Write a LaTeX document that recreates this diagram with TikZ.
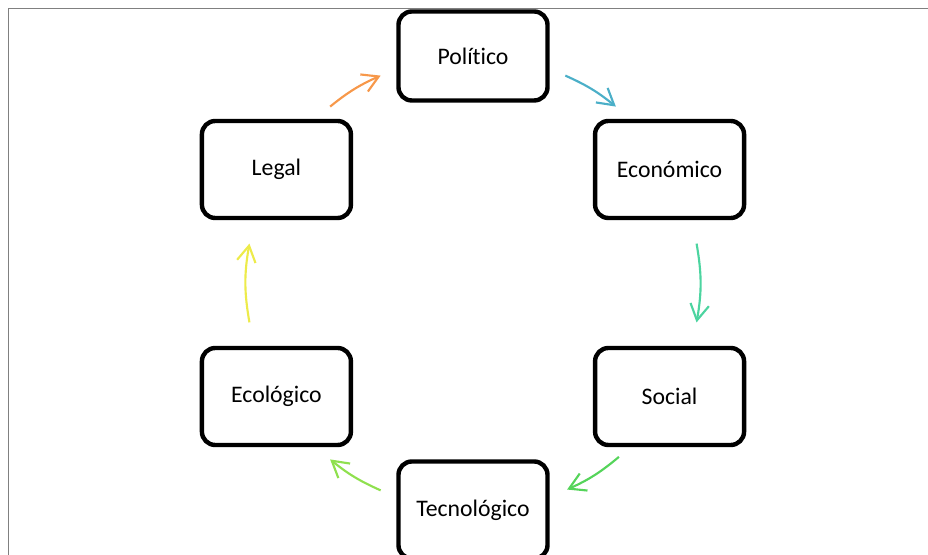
\documentclass[tikz,border=0pt]{standalone}
\usepackage{fontspec}
\setmainfont{Carlito}[RawFeature={-liga;-clig;-calt;-dlig}]
\usetikzlibrary{arrows.meta}
\definecolor{ciclo1}{HTML}{4BAFC8}
\definecolor{ciclo2}{HTML}{4CD4A0}
\definecolor{ciclo3}{HTML}{55D45A}
\definecolor{ciclo4}{HTML}{8FE04E}
\definecolor{ciclo5}{HTML}{EDEB4A}
\definecolor{ciclo6}{HTML}{F7984A}

\begin{document}
\begin{tikzpicture}[
    x=0.75pt, y=0.75pt,
    caja/.style={draw=black, line width=3.3pt, rounded corners=10pt, fill=white,
      minimum width=111.75pt, font=\fontsize{17.8}{21}\selectfont},
    flecha/.style={line width=1.6pt, -{Straight Barb[length=12pt, width=14pt]}},
    marco/.style={draw=black!50, line width=1.2pt},
  ]
  \useasboundingbox (-473,-272) rectangle (455,283);

  % frame, only top and left edges show
  \draw[marco] (-464.5,-272) |- (455,274.5);

  % the six boxes, on a circle of radius 227
  \foreach \ang/\nm/\txt/\alto in {90/pol/Político/66.75,
      30/eco/Económico/72.75, -30/soc/Social/72.75, -90/tec/Tecnológico/72.75,
      -150/ecl/Ecológico/72.75, 150/leg/Legal/72.75} {
    \node[caja, minimum height=\alto pt] (\nm) at (\ang:227) {\txt};
  }

  % arrows between the boxes, arcs of the same circle
  \foreach \i/\a/\b/\h in {1/66/51/7.5, 2/10/-10/10, 3/-50/-65.5/7.75,
      4/-114/-129/7.5, 5/-170/-190/10, 6/129/114/7.5} {
    \coordinate (s\i) at (\a:227);
    \coordinate (e\i) at (\b:227);
    \draw[flecha, draw=ciclo\i] (s\i) to[bend left=\h] (e\i);
  }
\end{tikzpicture}
\end{document}
